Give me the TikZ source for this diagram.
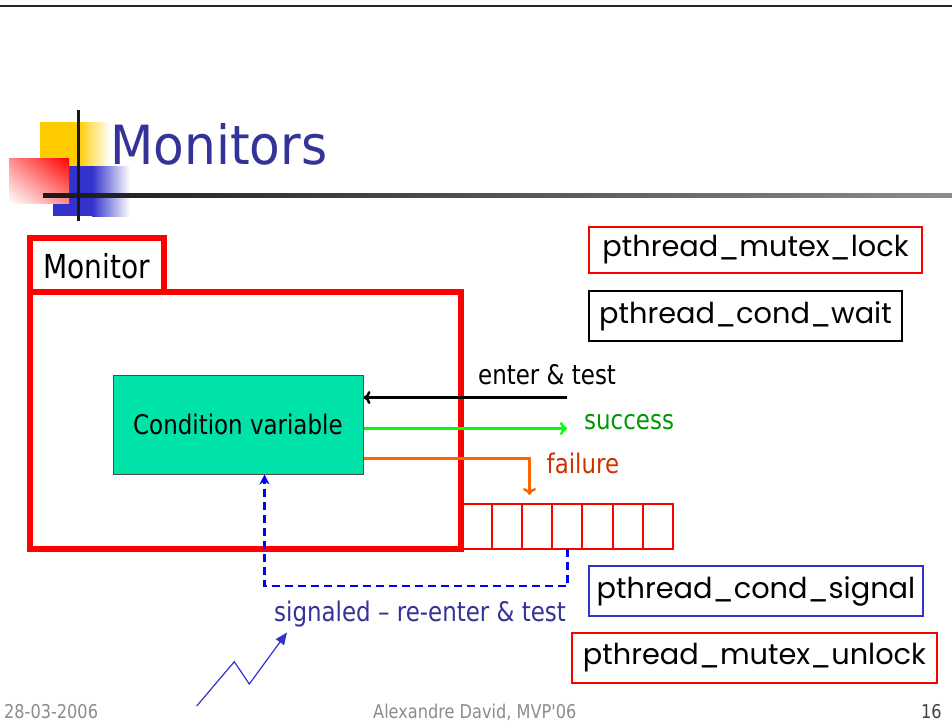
\documentclass[tikz,border=0pt]{standalone}
\usepackage{fontspec}
\usetikzlibrary{arrows.meta,shadings}
\newfontfamily\tah[FakeStretch=0.85]{DejaVu Sans}
\newfontfamily\tahtitle[FakeStretch=0.93]{DejaVu Sans}
\newfontfamily\comic{Poppins}
\definecolor{titleblue}{RGB}{51,51,153}
\definecolor{cvgreen}{RGB}{0,227,168}
\definecolor{okgreen}{RGB}{0,153,0}
\definecolor{failred}{RGB}{204,51,0}
\definecolor{failline}{RGB}{255,102,0}
\definecolor{brightgreen}{RGB}{0,255,0}
\definecolor{sigblue}{RGB}{51,51,204}
\definecolor{footgray}{RGB}{140,140,140}
\definecolor{logoyellow}{RGB}{255,204,0}
\definecolor{logoblue}{RGB}{51,51,204}
\tikzset{
  frame/.style={draw=red, line width=6pt, inner sep=0pt, outer sep=0pt},
  qbox/.style={draw=red, line width=2.5pt, inner sep=0pt, outer sep=0pt},
  cvbox/.style={draw=black!70, line width=1pt, fill=cvgreen, inner sep=0pt},
  apibox/.style={line width=2.5pt, inner sep=0pt, font=\comic\fontsize{28.8}{34}\selectfont},
  lbl/.style={inner sep=0pt, anchor=base west, font=\tah\fontsize{27}{30}\selectfont},
  foot/.style={inner sep=0pt, anchor=base west, font=\tah\fontsize{19}{22}\selectfont},
  conn/.style={line width=2.5pt, -{To[length=7pt,width=13pt]}},
  sigdash/.style={draw=blue, line width=2.5pt, dash pattern=on 8pt off 5pt,
    -{Stealth[length=10pt,width=10pt]}},
  bolt/.style={draw=sigblue, line width=1.2pt, -{Triangle[length=12pt,width=10pt]}}
}
\begin{document}
\begin{tikzpicture}[x=1pt,y=-1pt]
\useasboundingbox (0,0) rectangle (952,724);
\fill[white] (0,0) rectangle (952,724);

% slide header rule
\draw[black!85, line width=2pt] (0,6) -- (952,6);

% title logo: coloured squares and crossing rules
\fill[logoyellow] (40,122) rectangle (78,166);
\shade[left color=logoyellow, right color=white] (78,122) rectangle (110,166);
\fill[logoblue] (53,166) rectangle (92,216);
\shade[left color=logoblue, right color=white] (92,166) rectangle (130,216);
\shade[upper right=red, upper left=red!45, lower right=red!45, lower left=white]
  (9,158) rectangle (69,203);
\shade[left color=black!90, right color=black!45] (43,193.3) rectangle (952,197.3);
\fill[black!90] (76.5,110) rectangle (79.5,221);

% title
\node[inner sep=0pt, anchor=base west, text=titleblue,
  font=\tahtitle\fontsize{54}{60}\selectfont] (title) at (110,164.3) {Monitors};

% monitor frame with its label tab
\node[frame, minimum width=431pt, minimum height=257.5pt] (monitor) at (245.5,420.25) {};
\node[frame, minimum width=133.5pt, minimum height=54pt] (mtab) at (96.75,264.5) {};
\node[lbl, font=\tah\fontsize{33}{36}\selectfont] (mtext) at (43,278.3) {Monitor};

% waiting queue attached to the frame
\node[qbox, minimum width=212pt, minimum height=45pt] (queue) at (567,526.5) {};
\foreach \cx in {492,522,552,582,613,643}
  \draw[red, line width=2.5pt] (\cx,504) -- (\cx,549);

% condition variable
\node[cvbox, minimum width=250pt, minimum height=99pt] (cv) at (238,424.5) {};
\node[lbl] (cvtext) at (133,434) {Condition variable};

% enter / success / failure
\coordinate (enterstart) at (567,397.5);
\coordinate (succend) at (567,428.5);
\coordinate (failrow) at (529.5,458.5);
\coordinate (failend) at (529.5,495);
\draw[conn, black] (enterstart) -- (cv.east |- enterstart);
\draw[conn, brightgreen] (cv.east |- succend) -- (succend);
\draw[conn, failline] (cv.east |- failrow) -- (failrow) -- (failend);
\node[lbl] (enterlbl) at (478,384) {enter \& test};
\node[lbl, text=okgreen] (succlbl) at (584,429.3) {success};
\node[lbl, text=failred] (faillbl) at (546.5,473.3) {failure};

% signalled thread goes back to the condition variable
\coordinate (sigdrop) at (567.5,549);
\coordinate (sigcorner) at (264.5,586);
\draw[sigdash] (sigdrop) |- (sigcorner) -- (sigcorner |- cv.south);
\node[lbl, text=titleblue] (siglbl) at (274,621.7) {signaled \textendash{} re-enter \& test};

% external signal
\coordinate (z0) at (196.7,706);
\coordinate (z1) at (234.3,661.7);
\coordinate (z2) at (249.3,684);
\coordinate (z3) at (287,632.5);
\draw[bolt] (z0) -- (z1) -- (z2) -- (z3);

% pthread calls
\node[apibox, draw=red, minimum width=333pt, minimum height=46pt] (lock) at (755.5,250) {pthread\_mutex\_lock};
\node[apibox, draw=black, minimum width=313pt, minimum height=50pt] (wait) at (745.5,316) {pthread\_cond\_wait};
\node[apibox, draw=sigblue, minimum width=334pt, minimum height=50pt] (signal) at (756,591) {pthread\_cond\_signal};
\node[apibox, draw=red, minimum width=365pt, minimum height=50pt] (unlock) at (754.5,658) {pthread\_mutex\_unlock};

% footer
\node[foot, text=footgray] (date) at (4,718) {28-03-2006};
\node[foot, text=footgray] (author) at (373,718) {Alexandre David, MVP'06};
\node[foot, text=black!75] (page) at (921,718) {16};
\end{tikzpicture}
\end{document}
